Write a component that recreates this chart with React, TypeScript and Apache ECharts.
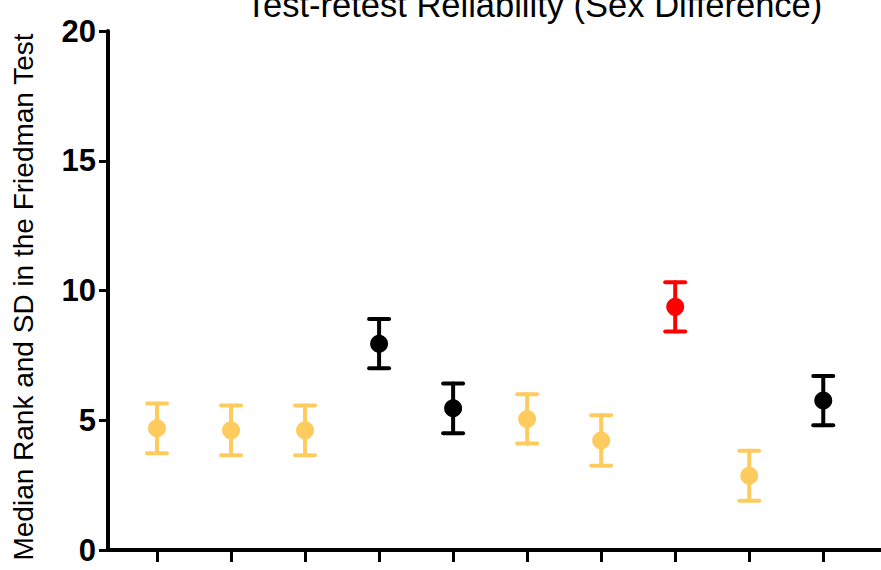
import React, { useEffect, useRef } from "react";
import * as echarts from "echarts";

const categories = ["1", "2", "3", "4", "5", "6", "7", "8", "9", "10"];
const medianRank = [4.69, 4.61, 4.61, 7.95, 5.46, 5.05, 4.22, 9.37, 2.86, 5.76];
const sdValues = [0.96, 0.96, 0.96, 0.95, 0.96, 0.95, 0.97, 0.95, 0.96, 0.95];
const groupKind = ["other", "other", "other", "dark", "dark", "other", "other", "red", "other", "dark"];
const yTicks = [0, 5, 10, 15, 20];

const colorOf: Record<string, string> = { other: "#FECB5F", dark: "#000000", red: "#FF0000" };
const FONT = "'Liberation Sans', Arial, Helvetica, sans-serif";

export default function App() {
  const ref = useRef<HTMLDivElement>(null);
  useEffect(() => {
    if (!ref.current) return;
    const chart = echarts.init(ref.current, null, { renderer: "svg" });
    const pos = categories.map((_, i) => i + 1);
    const pts = categories.map((c, i) => ({
      value: [pos[i], medianRank[i]],
      itemStyle: { color: colorOf[groupKind[i]], opacity: 1 },
    }));
    const bars = categories.map((c, i) => [pos[i], medianRank[i] - sdValues[i], medianRank[i] + sdValues[i], i]);
    chart.setOption({
      animation: false,
      grid: { left: 108, top: 31, bottom: 20, right: 0, containLabel: false, outerBoundsMode: "none" },
      graphic: [
        {
          type: "text",
          x: 534,
          y: 5,
          style: {
            text: "Test-retest Reliability (Sex Difference)",
            font: "34.5px " + FONT,
            fill: "#000",
            align: "center",
            verticalAlign: "middle",
          },
        },
        {
          type: "text",
          x: 23,
          y: 297,
          rotation: Math.PI / 2,
          style: {
            text: "Median Rank and SD in the Friedman Test",
            font: "28px " + FONT,
            fill: "#000",
            align: "center",
            verticalAlign: "middle",
          },
        },
      ],
      xAxis: {
        type: "value",
        min: 0.338,
        max: 10.78,
        splitLine: { show: false },
        axisLine: { show: true, lineStyle: { color: "#000", width: 4 } },
        axisTick: { show: true, length: 12, customValues: pos, lineStyle: { color: "#000", width: 3 } },
        axisLabel: { show: false },
      },
      yAxis: {
        type: "value",
        min: 0,
        max: 20,
        interval: 5,
        splitLine: { show: false },
        axisLine: { show: true, lineStyle: { color: "#000", width: 4 } },
        axisTick: { show: true, length: 9, lineStyle: { color: "#000", width: 3 } },
        axisLabel: {
          margin: 12,
          fontSize: 31,
          fontWeight: "bold",
          fontFamily: FONT,
          color: "#000",
          formatter: (v: number) => (yTicks.includes(v) ? String(v) : ""),
        },
      },
      series: [
        {
          type: "custom",
          data: bars,
          z: 2,
          renderItem: (params: any, api: any) => {
            const x = api.value(0);
            const lo = api.coord([x, api.value(1)]);
            const hi = api.coord([x, api.value(2)]);
            const col = colorOf[groupKind[api.value(3)]];
            const hw = 10;
            const st = { stroke: col, lineWidth: 4, lineCap: "round" };
            return {
              type: "group",
              children: [
                { type: "line", shape: { x1: lo[0], y1: lo[1], x2: hi[0], y2: hi[1] }, style: st },
                { type: "line", shape: { x1: lo[0] - hw, y1: lo[1], x2: lo[0] + hw, y2: lo[1] }, style: st },
                { type: "line", shape: { x1: hi[0] - hw, y1: hi[1], x2: hi[0] + hw, y2: hi[1] }, style: st },
              ],
            };
          },
        },
        {
          type: "scatter",
          data: pts,
          symbol: "circle",
          symbolSize: 18,
          z: 3,
        },
      ],
    });
    return () => chart.dispose();
  }, []);
  return <div ref={ref} style={{ width: 881, height: 570, position: "absolute", left: 0, top: 0 }} />;
}
